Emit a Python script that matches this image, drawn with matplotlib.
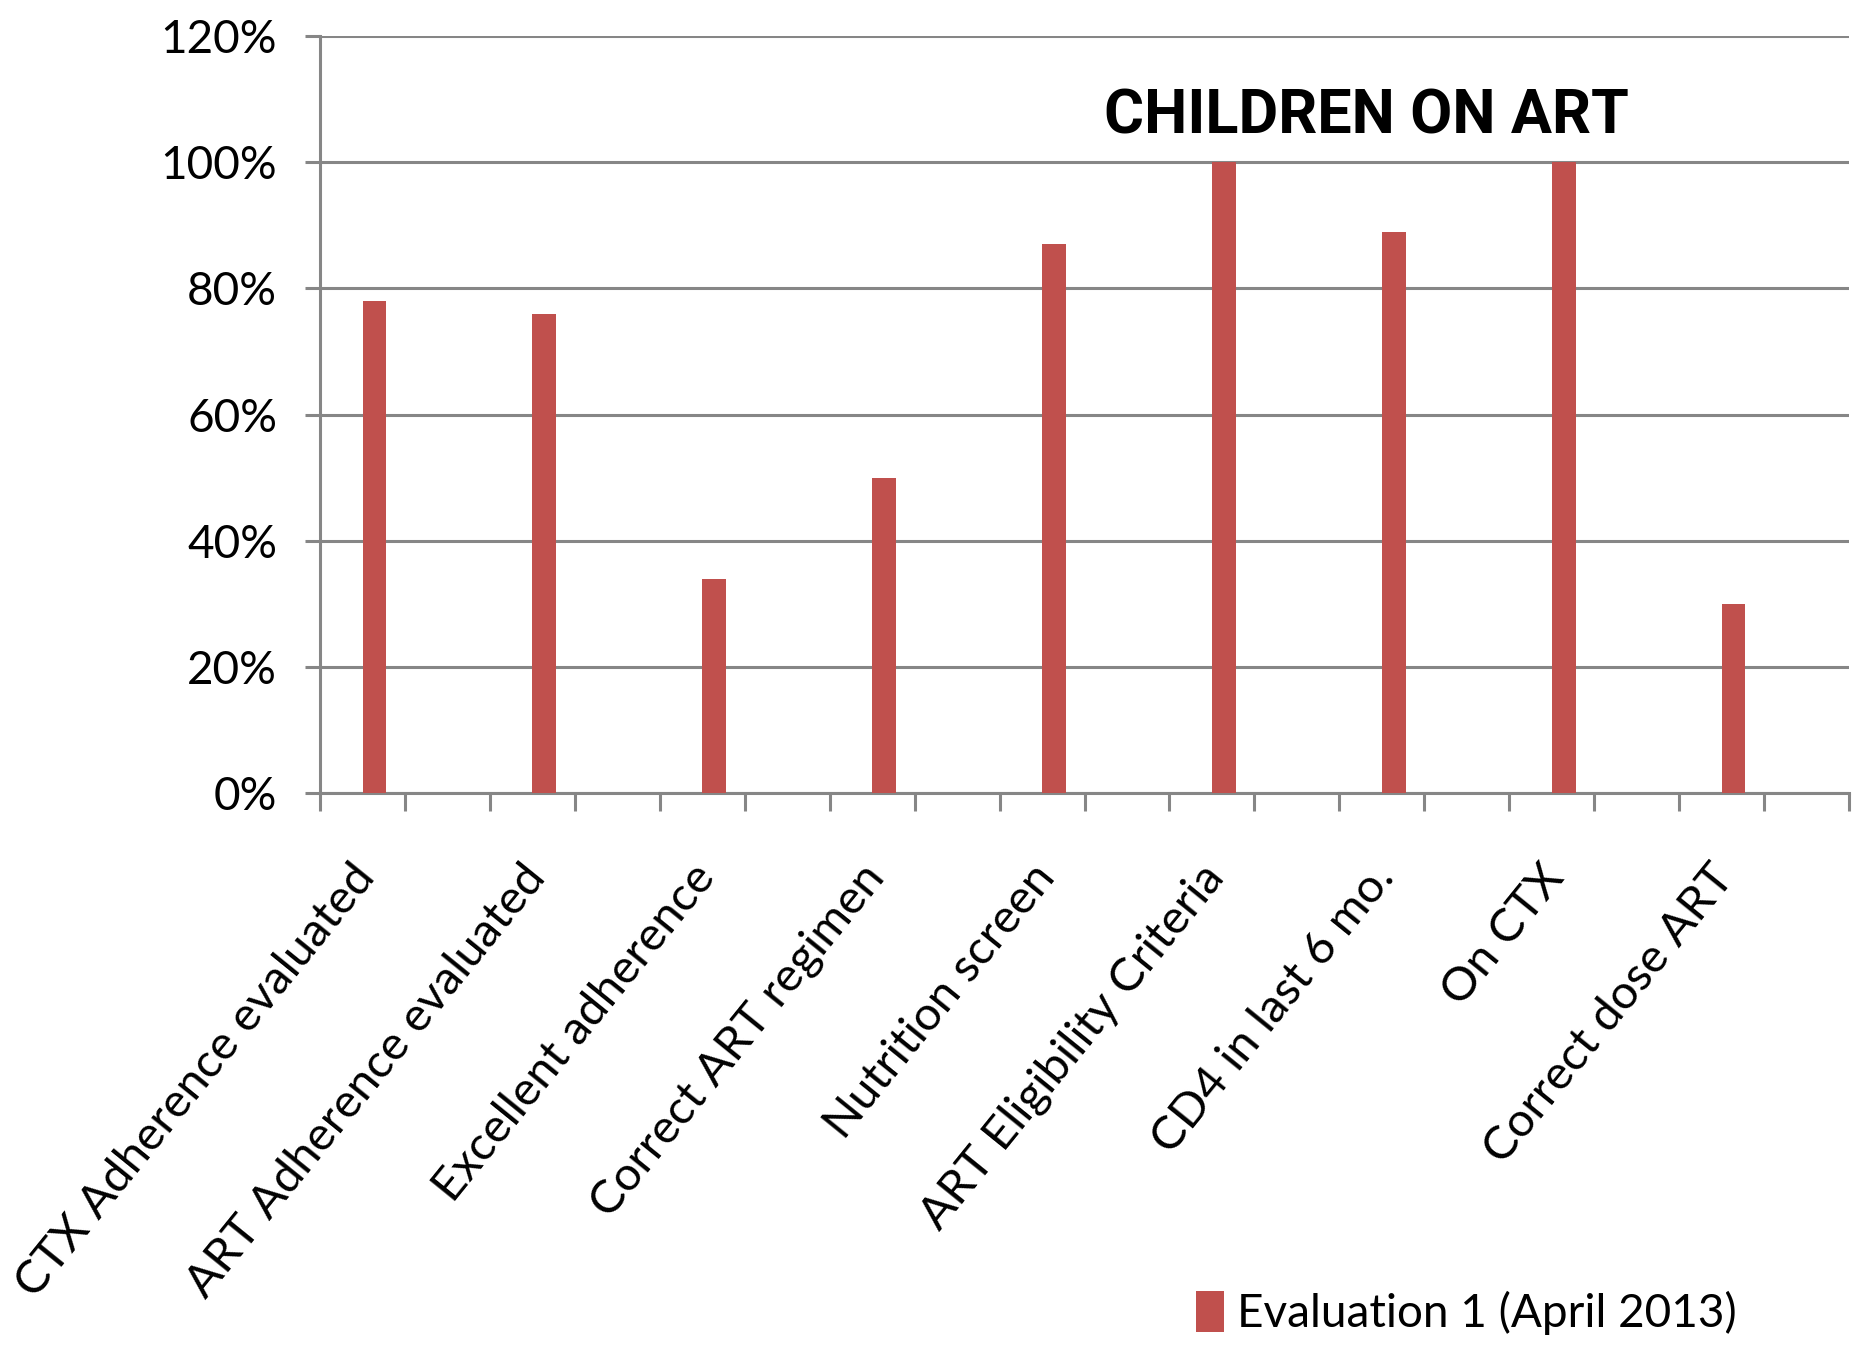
import numpy as np
import matplotlib
matplotlib.use('Agg')
import matplotlib.pyplot as plt
from matplotlib.ticker import FixedLocator, PercentFormatter

plt.rcParams['font.family'] = ['Lato', 'DejaVu Sans']

# データ
categories = ['CTX Adherence evaluated', 'ART Adherence evaluated', 'Excellent adherence',
              'Correct ART regimen', 'Nutrition screen', 'ART Eligibility Criteria',
              'CD4 in last 6 mo.', 'On CTX', 'Correct dose ART']
evaluation1 = [78, 76, 34, 50, 87, 100, 89, 100, 30]
series_label = 'Evaluation 1 (April 2013)'
title = 'CHILDREN ON ART'

bar_color = '#C0504D'
grid_color = '#868686'

fig = plt.figure(figsize=(18.63, 13.48), dpi=100)
ax = fig.add_axes([0.1718, 0.4117, 0.8207, 0.5616])

x = np.arange(len(categories))
ax.bar(x - 0.18, evaluation1, width=0.14, color=bar_color, zorder=3, label=series_label)

ax.set_xlim(-0.5, len(categories) - 0.5)
ax.set_ylim(0, 120)
ax.yaxis.set_major_locator(FixedLocator(np.arange(0, 121, 20)))
ax.yaxis.set_major_formatter(PercentFormatter(decimals=0))
ax.grid(axis='y', color=grid_color, linewidth=2.2, zorder=1)
ax.set_axisbelow(True)

# x軸: ラベル位置と目盛り線を分ける
ax.set_xticks(x - 0.32)
ax.set_xticklabels(categories, rotation=51, ha='right', va='top', rotation_mode='anchor', fontsize=34)
ax.set_xticks(np.arange(-0.5, len(categories), 0.5), minor=True)
ax.tick_params(axis='x', which='major', length=0, pad=46)
ax.tick_params(axis='x', which='minor', length=13, width=2.2, color=grid_color)
ax.tick_params(axis='y', length=11, width=2.2, color=grid_color, labelsize=33, pad=20)

for s in ['top', 'right']:
    ax.spines[s].set_visible(False)
for s in ['left', 'bottom']:
    ax.spines[s].set_color(grid_color)
    ax.spines[s].set_linewidth(2.2)

fig.text(1366 / 1863, 1 - 133 / 1348, title, fontsize=44, fontweight='bold',
         ha='center', va='baseline', family=['Roboto', 'DejaVu Sans'])

fig.legend(loc='center left', bbox_to_anchor=(1196 / 1863, 1 - 1313 / 1348), frameon=False,
           fontsize=33, handlelength=0.6, handleheight=1.0, handletextpad=0.3,
           borderpad=0, borderaxespad=0)

fig.savefig('out.png', dpi=100)
